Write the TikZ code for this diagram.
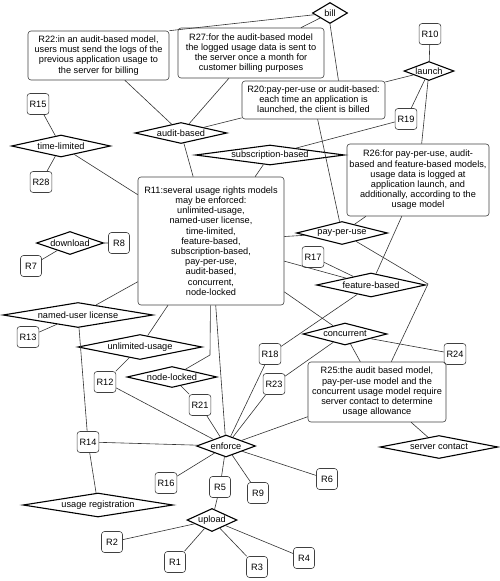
\documentclass[tikz,border=0pt]{standalone}
\usepackage{fontspec}
\setmainfont{Liberation Sans}
\usetikzlibrary{shapes.geometric}

\begin{document}
\begin{tikzpicture}[x=1pt, y=-1pt,
    every node/.style={font=\fontsize{9.2}{10.2}\selectfont},
    req/.style={draw=black!75, line width=0.6pt, rounded corners=3pt, align=center,
                inner xsep=2.5pt, inner ysep=2pt, minimum width=21pt, minimum height=21pt},
    note/.style 2 args={req, minimum width=#1, minimum height=#2},
    kw/.style 2 args={diamond, draw, line width=1.1pt, inner sep=0pt,
                minimum width=#1pt, minimum height=#2pt,
                /utils/exec={\pgfmathsetmacro\kwaspect{#1/#2}}, aspect=\kwaspect},
    link/.style={draw=black!80, line width=0.6pt}]
    \useasboundingbox (0,0) rectangle (500,581);

    \node[note={141pt}{49pt}] (r22) at (98.5,55.5) {R22:in an audit-based model,\\ users must send the logs of the\\ previous application usage to\\ the server for billing};
    \node[note={146pt}{50pt}] (r27) at (251,53) {R27:for the audit-based model\\ the logged usage data is sent to\\ the server once a month for\\ customer billing purposes};
    \node[note={143pt}{38pt}] (r20) at (313.5,100) {R20:pay-per-use or audit-based:\\ each time an application is\\ launched, the client is billed};
    \node[note={142pt}{72pt}] (r26) at (418,180) {R26:for pay-per-use, audit-\\ based and feature-based models,\\ usage data is logged at\\ application launch, and\\ additionally, according to the\\ usage model};
    \node[note={146pt}{128pt}] (r11) at (211,241) {R11:several usage rights models\\ may be enforced:\\ unlimited-usage,\\ named-user license,\\ time-limited,\\ feature-based,\\ subscription-based,\\ pay-per-use,\\ audit-based,\\ concurrent,\\ node-locked};
    \node[note={138pt}{60pt}] (r25) at (377,392) {R25:the audit based model,\\ pay-per-use model and the\\ concurrent usage model require\\ server contact to determine\\ usage allowance};

    \node[req] (r15) at (38,104) {R15};
    \node[req] (r28) at (41,182) {R28};
    \node[req] (r10) at (430,34) {R10};
    \node[req] (r19) at (406,119) {R19};
    \node[req] (r8) at (119,243) {R8};
    \node[req] (r7) at (31,266) {R7};
    \node[req] (r13) at (28,337) {R13};
    \node[req] (r17) at (313,257) {R17};
    \node[req] (r18) at (270,354) {R18};
    \node[req] (r24) at (455,354) {R24};
    \node[req] (r23) at (274,384) {R23};
    \node[req] (r12) at (105,382) {R12};
    \node[req] (r21) at (200,405) {R21};
    \node[req] (r14) at (88,442) {R14};
    \node[req] (r16) at (166,483) {R16};
    \node[req] (r5) at (220,487) {R5};
    \node[req] (r9) at (258,493) {R9};
    \node[req] (r6) at (327,479) {R6};
    \node[req] (r4) at (304,558) {R4};
    \node[req] (r3) at (257,567) {R3};
    \node[req] (r2) at (112,542) {R2};
    \node[req] (r1) at (175,562) {R1};

    \node[kw={35}{21}] (bill) at (330,13) {bill};
    \node[kw={50}{19}] (launch) at (429,71) {launch};
    \node[kw={92}{21}] (audit) at (181,133) {audit-based};
    \node[kw={99}{22}] (timelim) at (61,146) {time-limited};
    \node[kw={149}{20}] (subscr) at (270,155) {subscription-based};
    \node[kw={67}{23}] (download) at (70,243) {download};
    \node[kw={91}{23}] (payuse) at (342,233) {pay-per-use};
    \node[kw={109}{24}] (feature) at (371,285) {feature-based};
    \node[kw={150}{25}] (nameduser) at (78,315) {named-user license};
    \node[kw={124}{25}] (unlimited) at (140,347) {unlimited-usage};
    \node[kw={84}{22}] (concurrent) at (345,334) {concurrent};
    \node[kw={90}{21}] (nodelocked) at (172,377) {node-locked};
    \node[kw={59}{22}] (enforce) at (226,446) {enforce};
    \node[kw={118}{23}] (server) at (439,447) {server contact};
    \node[kw={150}{24}] (usagereg) at (98,505) {usage registration};
    \node[kw={50}{23}] (upload) at (212,520) {upload};

    \coordinate (ppubend) at (428,284);
    \coordinate (nlbend) at (210,355);

    \draw[link] (r22.north east) -- (bill) (r27) -- (bill) (bill.south) -- ([xshift=25pt]r20.north);
    \draw[link] (r22) -- (audit) (r27) -- (audit) (r20) -- (audit) (audit) -- (r11);
    \draw[link] (r15) -- (timelim) (timelim) -- (r28) (timelim) -- (r11);
    \draw[link] (r10) -- (launch) (launch) -- (r20) (launch) -- (r19) (launch) -- (r26);
    \draw[link] (r19) -- (subscr) (subscr) -- (r11);
    \draw[link] (r20) -- (payuse) (payuse) -- (r26) (r11) -- (payuse);
    \draw[link] (payuse) -- (ppubend) -- (r25);
    \draw[link] (r26) -- (feature) (r11) -- (feature) (r17) -- (feature) (feature) -- (r18);
    \draw[link] (r11) -- (concurrent) (concurrent) -- (r24) (concurrent) -- (r23) (concurrent) -- (r25);
    \draw[link] (r18) -- (enforce) (r23) -- (enforce) (r25) -- (enforce) (r25) -- (server);
    \draw[link] (r11) -- (nlbend) -- (nodelocked);
    \draw[link] (r11) -- (enforce) (r11) -- (unlimited) (r11) -- (nameduser);
    \draw[link] (nodelocked) -- (r21) (r21) -- (enforce);
    \draw[link] (unlimited) -- (r12) (r12) -- (enforce) (r14) -- (enforce);
    \draw[link] (nameduser) -- (r14) (nameduser) -- (r13) (r14) -- (usagereg);
    \draw[link] (download) -- (r8) (download) -- (r7);
    \draw[link] (enforce) -- (r16) (enforce) -- (r5) (enforce) -- (r9) (enforce) -- (r6);
    \draw[link] (r5) -- (upload) (upload) -- (r2) (upload) -- (r1) (upload) -- (r3) (upload) -- (r4);
\end{tikzpicture}
\end{document}
